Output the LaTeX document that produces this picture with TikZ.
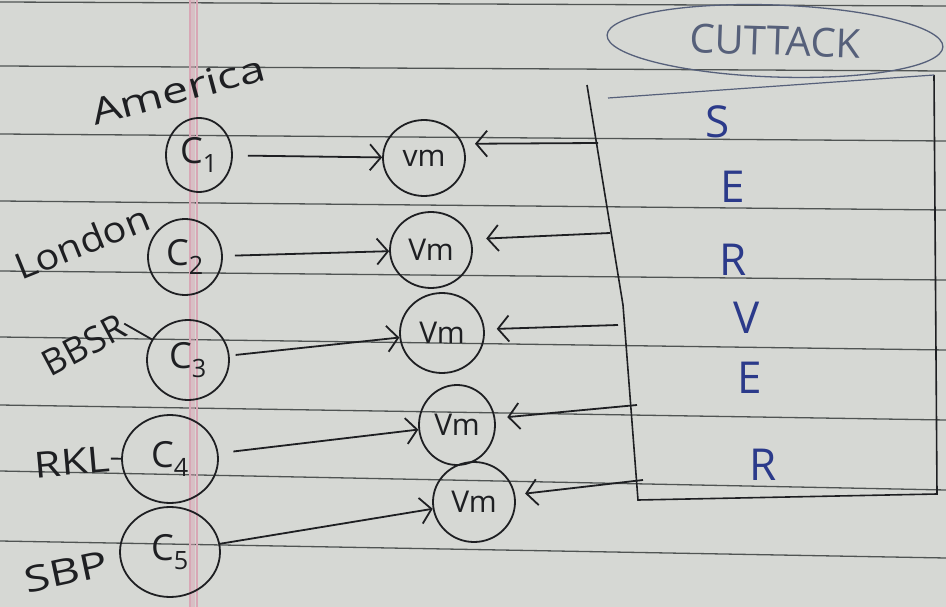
\documentclass[tikz,border=0pt]{standalone}
\usepackage{fontspec}
\setmainfont{Open Sans}
\usetikzlibrary{arrows.meta,shapes.geometric}
\definecolor{paper}{HTML}{D6D8D4}
\definecolor{rule}{HTML}{505453}
\definecolor{margin}{HTML}{D8A7B5}
\definecolor{inkc}{HTML}{1E1F22}
\definecolor{blueink}{HTML}{2B3A8A}
\definecolor{pencil}{HTML}{56607A}
\begin{document}
\begin{tikzpicture}[x=1pt,y=-1pt,
  ruled/.style={draw=rule,line width=1.3pt},
  ink/.style={draw=inkc,line width=1.8pt},
  client/.style={ellipse,draw=inkc,line width=1.8pt,inner sep=0pt,font=\fontsize{36}{38}\selectfont,text=inkc},
  vmnode/.style={ellipse,draw=inkc,line width=1.8pt,inner sep=0pt,font=\fontsize{30}{32}\selectfont,text=inkc},
  place/.style={font=\fontsize{36}{38}\selectfont,text=inkc,inner sep=1pt},
  letter/.style={font=\fontsize{44}{46}\selectfont,text=blueink,inner sep=0pt},
  arr/.style={ink,-{Straight Barb[length=11pt,width=26pt,line width=1.8pt]}}
]
\useasboundingbox (0,0) rectangle (946,607);
\fill[paper] (0,0) rectangle (946,607);
% ruled lines of the paper
\foreach \a/\b in {2/6,66/71,134/141,201/210,271/280,337/350,405/420,471/490,541/558}
  \draw[ruled] (0,\a) -- (946,\b);
% margin line
\draw[margin,line width=4pt,opacity=0.5] (193,0) -- (193,607);
\draw[margin,line width=1.2pt] (190,0) -- (190,607);
\draw[margin,line width=1.2pt] (197,0) -- (197,607);

% CUTTACK
\node[ellipse,draw=pencil,line width=1.3pt,minimum width=336,minimum height=72,rotate=-2,
      font=\fontsize{40}{42}\selectfont,text=pencil,inner sep=0pt] (city) at (775,41) {CUTTACK};

% server box
\draw[ink,line width=1.6pt] (587,85) -- (623,305) -- (638,500) -- (937,494) -- (934,75);
\draw[pencil,line width=1.2pt] (608,98) -- (934,75);
\node[letter] (l1) at (718,122) {S};
\node[letter] (l2) at (733,187) {E};
\node[letter] (l3) at (733,260) {R};
\node[letter] (l4) at (747,318) {V};
\node[letter] (l5) at (750,378) {E};
\node[letter] (l6) at (763,465) {R};

% clients
\node[client,minimum width=66,minimum height=74] (c1) at (199,155) {C\textsubscript{1}};
\node[client,minimum width=74,minimum height=76] (c2) at (185,257) {C\textsubscript{2}};
\node[client,minimum width=82,minimum height=80] (c3) at (188,360) {C\textsubscript{3}};
\node[client,minimum width=96,minimum height=88] (c4) at (170,459) {C\textsubscript{4}};
\node[client,minimum width=100,minimum height=90] (c5) at (170,552) {C\textsubscript{5}};

% VMs
\node[vmnode,minimum width=82,minimum height=76] (v1) at (424,158) {vm};
\node[vmnode,minimum width=82,minimum height=76] (v2) at (431,250) {Vm};
\node[vmnode,minimum width=84,minimum height=80] (v3) at (442,333) {Vm};
\node[vmnode,minimum width=76,minimum height=80] (v4) at (457,425) {Vm};
\node[vmnode,minimum width=82,minimum height=80] (v5) at (474,502) {Vm};

% place labels
\node[place,rotate=15] (pa) at (178,90) {\scalebox{1.3}[1]{America}};
\node[place,rotate=22] (pl) at (82,242) {\scalebox{1.1}[1]{London}};
\node[place,rotate=28] (pb) at (84,345) {BBSR};
\node[place,rotate=5] (pr) at (72,462) {\scalebox{1.2}[1]{RKL}};
\node[place,rotate=12] (ps) at (66,572) {\scalebox{1.3}[1]{SBP}};
\draw[ink] (pb.east) -- (c3);
\draw[ink] (pr.east) -- (c4);

% client -> VM
\draw[arr,shorten <=15pt] (c1) -- (v1);
\draw[arr,shorten <=12pt] (c2) -- (v2);
\draw[arr,shorten <=6pt] (c3) -- (v3);
\draw[arr,shorten <=15pt] (c4) -- (v4);
\draw[arr] (c5) -- (v5);

% server -> VM
\coordinate (s1) at (598,143);
\coordinate (s2) at (610,233);
\coordinate (s3) at (618,325);
\coordinate (s4) at (637,405);
\coordinate (s5) at (643,480);
\draw[arr,shorten >=12pt] (s1) -- (v1.20);
\draw[arr,shorten >=15pt] (s2) -- (v2.15);
\draw[arr,shorten >=12pt] (s3) -- (v3.5);
\draw[arr,shorten >=12pt] (s4) -- (v4.10);
\draw[arr,shorten >=10pt] (s5) -- (v5.10);
\end{tikzpicture}
\end{document}
